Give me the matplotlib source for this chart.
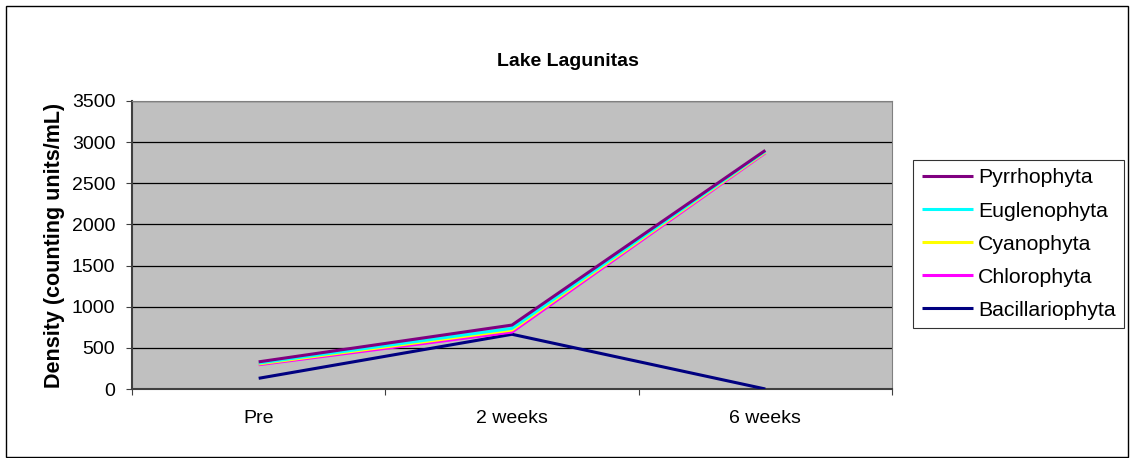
import matplotlib
matplotlib.use('Agg')
import matplotlib.pyplot as plt
import numpy as np
from matplotlib.patches import Rectangle

plt.rcParams['font.family'] = ['Liberation Sans', 'DejaVu Sans']

categories = ['Pre', '2 weeks', '6 weeks']
# stacked line chart: each series adds onto the ones below
series_names = ['Bacillariophyta', 'Chlorophyta', 'Cyanophyta', 'Euglenophyta', 'Pyrrhophyta']
bacillariophyta = [130, 665, 0]
chlorophyta = [165, 27, 2870]
cyanophyta = [10, 25, 10]
euglenophyta = [10, 20, 10]
pyrrhophyta = [15, 40, 10]
colors = ['#000080', '#FF00FF', '#FFFF00', '#00FFFF', '#800080']

values = [bacillariophyta, chlorophyta, cyanophyta, euglenophyta, pyrrhophyta]
stacked = np.cumsum(np.array(values), axis=0)

fig = plt.figure(figsize=(11.3, 4.58), dpi=100)
W, H = 1130, 458
ax = fig.add_axes([132 / W, 69 / H, 760 / W, 288 / H])
ax.set_facecolor('#C0C0C0')

x = np.arange(len(categories)) + 0.5
lines = {}
for name, ys, c in zip(series_names, stacked, colors):
    lines[name], = ax.plot(x, ys, color=c, lw=2.2, solid_capstyle='butt', zorder=3)

ax.set_xlim(0, 3)
ax.set_ylim(0, 3500)
ax.set_yticks(np.arange(0, 3501, 500))
ax.yaxis.grid(True, color='black', lw=0.9)
ax.set_axisbelow(True)
ax.set_xticks([0, 1, 2, 3])
ax.set_xticklabels([])
ax.set_xticks(x, minor=True)
ax.set_xticklabels(categories, minor=True)
ax.tick_params(axis='x', which='minor', length=0, pad=15, labelsize=14)
ax.tick_params(axis='x', which='major', length=4, direction='out', color='#404040')
ax.tick_params(axis='y', length=4, direction='out', labelsize=14, pad=8, color='#404040')
for s in ['top', 'right']:
    ax.spines[s].set_color('#808080')
for s in ['left', 'bottom']:
    ax.spines[s].set_color('#404040')
    ax.spines[s].set_linewidth(1.5)

ax.set_ylabel('Density (counting units/mL)', fontsize=15.5, fontweight='bold', labelpad=5)
fig.text(568 / W, 1 - 61 / H, 'Lake Lagunitas', ha='center', va='center',
         fontsize=14, fontweight='bold')

order = ['Pyrrhophyta', 'Euglenophyta', 'Cyanophyta', 'Chlorophyta', 'Bacillariophyta']
leg = fig.legend([lines[n] for n in order], order, loc='upper left',
                 bbox_to_anchor=(913 / W, 1 - 160 / H), fontsize=15.3,
                 frameon=True, fancybox=False, edgecolor='black',
                 handlelength=2.4, handletextpad=0.25, labelspacing=0.66,
                 borderpad=0.4, borderaxespad=0)
leg.get_frame().set_linewidth(0.8)

fig.patches.append(Rectangle((6 / W, 1 / H), 1122 / W, 451 / H, transform=fig.transFigure,
                             fill=False, edgecolor='black', lw=1))

fig.savefig('out.png', dpi=100)
